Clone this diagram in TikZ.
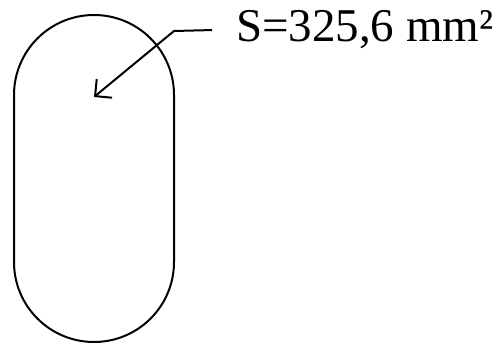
\documentclass[tikz,border=0pt]{standalone}
\usepackage{fontspec}
\setmainfont{Liberation Serif}
\usetikzlibrary{arrows.meta, positioning}

\begin{document}
\begin{tikzpicture}[
x=1pt, y=-1pt,
outline/.style={draw, line width=2pt},
arrow/.style={-{Straight Barb[angle=90:17pt, line width=2pt]}, line width=2pt},
label/.style={font=\fontsize{47}{50}\selectfont, inner sep=0pt, outer xsep=24pt, anchor=base west}
]
\useasboundingbox (0,0) rectangle (495,344);
% cross section
\draw[outline, rounded corners=80pt] (14,15) rectangle (174,342);
% area label
\node[label] (area) at (212,42) {S=325,6 mm²};
\coordinate (bend) at (174,31);
\coordinate (tip) at (94,97);
\draw[arrow] (area.west) -- (bend) -- (tip);
\end{tikzpicture}
\end{document}
